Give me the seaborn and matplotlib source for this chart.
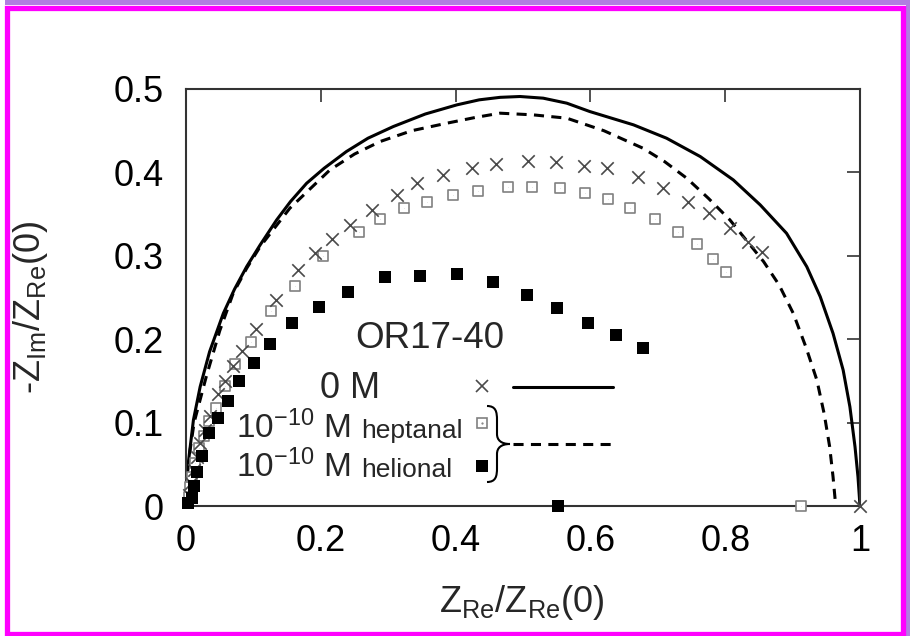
import matplotlib

matplotlib.use("Agg")
import matplotlib.pyplot as plt
import pandas as pd
import seaborn as sns
from matplotlib.patches import PathPatch, Rectangle
from matplotlib.path import Path

# fitted curves
solid_x = [0, 0.0008, 0.0034, 0.011, 0.021, 0.035, 0.0554, 0.072, 0.090, 0.11, 0.1345,
           0.155, 0.179, 0.205, 0.238, 0.27, 0.3076, 0.355, 0.402, 0.435, 0.466, 0.4955,
           0.53, 0.565, 0.599, 0.664, 0.713, 0.763, 0.812, 0.852, 0.891, 0.921, 0.941,
           0.960, 0.975, 0.985, 0.9926, 0.997, 1.0]
solid_y = [0, 0.025, 0.0516, 0.103, 0.143, 0.185, 0.231, 0.260, 0.287, 0.313, 0.343,
           0.365, 0.387, 0.405, 0.425, 0.441, 0.455, 0.470, 0.481, 0.487, 0.490, 0.491,
           0.489, 0.483, 0.473, 0.457, 0.441, 0.419, 0.391, 0.361, 0.327, 0.287, 0.251,
           0.207, 0.163, 0.119, 0.071, 0.035, 0]
dashed_x = [0, 0.001, 0.003, 0.012, 0.030, 0.050, 0.070, 0.090, 0.110, 0.154, 0.2136,
            0.25, 0.288, 0.335, 0.387, 0.43, 0.466, 0.515, 0.565, 0.62, 0.678, 0.71,
            0.743, 0.775, 0.807, 0.857, 0.88, 0.901, 0.92, 0.936, 0.947, 0.955, 0.960,
            0.964]
dashed_y = [0, 0.025, 0.05, 0.10, 0.155, 0.21, 0.255, 0.285, 0.311, 0.357, 0.403,
            0.422, 0.437, 0.450, 0.459, 0.466, 0.471, 0.469, 0.465, 0.450, 0.429, 0.413,
            0.393, 0.369, 0.343, 0.293, 0.265, 0.231, 0.19, 0.151, 0.11, 0.071, 0.035,
            0]

# 0 M (crosses)
zero_x = [0.005, 0.008, 0.0114, 0.0163, 0.0212, 0.0287, 0.036, 0.0475, 0.0583, 0.070, 0.083,
          0.104, 0.133, 0.1667, 0.191, 0.216, 0.243, 0.2755, 0.3126, 0.343, 0.382, 0.424,
          0.460, 0.508, 0.549, 0.5905, 0.625, 0.670, 0.708, 0.745, 0.776, 0.807, 0.834,
          0.854, 1.0]
zero_y = [0.013, 0.027, 0.043, 0.059, 0.075, 0.091, 0.108, 0.134, 0.150, 0.168, 0.186,
          0.212, 0.247, 0.283, 0.303, 0.320, 0.337, 0.355, 0.373, 0.387, 0.397, 0.405,
          0.410, 0.414, 0.412, 0.408, 0.405, 0.395, 0.381, 0.364, 0.351, 0.333, 0.316,
          0.304, 0.0]

# 1e-10 M heptanal (open squares)
hept_x = [0.004, 0.0064, 0.009, 0.0138, 0.0188, 0.0262, 0.0336, 0.045, 0.0574, 0.0722,
          0.0969, 0.1256, 0.1617, 0.2037, 0.257, 0.288, 0.3234, 0.357, 0.3966, 0.4337,
          0.478, 0.514, 0.555, 0.592, 0.6266, 0.659, 0.696, 0.730, 0.758, 0.782, 0.801,
          0.912]
hept_y = [0.011, 0.023, 0.035, 0.051, 0.069, 0.084, 0.102, 0.118, 0.144, 0.170,
          0.197, 0.234, 0.264, 0.300, 0.329, 0.344, 0.357, 0.364, 0.373, 0.378,
          0.383, 0.383, 0.381, 0.375, 0.368, 0.357, 0.344, 0.328, 0.314, 0.296, 0.281,
          0.0]

# 1e-10 M helional (filled squares)
heli_x = [0.003, 0.009, 0.0114, 0.0163, 0.0237, 0.0346, 0.0475, 0.0623, 0.079, 0.1004,
          0.125, 0.157, 0.198, 0.241, 0.295, 0.347, 0.4016, 0.456, 0.5055, 0.551, 0.597,
          0.638, 0.6776, 0.5515]
heli_y = [0.003, 0.009, 0.024, 0.041, 0.060, 0.087, 0.105, 0.126, 0.150, 0.171,
          0.194, 0.219, 0.239, 0.257, 0.274, 0.276, 0.278, 0.269, 0.253, 0.237, 0.220,
          0.205, 0.189, 0.0]

x_ticks = [0, 0.2, 0.4, 0.6, 0.8, 1.0]
x_ticklabels = ["0", "0.2", "0.4", "0.6", "0.8", "1"]
y_ticks = [0, 0.1, 0.2, 0.3, 0.4, 0.5]
y_ticklabels = ["0", "0.1", "0.2", "0.3", "0.4", "0.5"]

W, H = 910, 636
AX_L, AX_R, AX_T, AX_B = 186, 860, 89, 506


def ax_frac(px, py):
    return (px - AX_L) / (AX_R - AX_L), (AX_B - py) / (AX_B - AX_T)


sns.set_style("white")
plt.rcParams["font.family"] = ["Liberation Sans", "DejaVu Sans"]
plt.rcParams["mathtext.fontset"] = "custom"
plt.rcParams["mathtext.rm"] = "Liberation Sans"
plt.rcParams["mathtext.it"] = "Liberation Sans"

fig = plt.figure(figsize=(W / 100, H / 100), dpi=100)
ax = fig.add_axes([AX_L / W, 1 - AX_B / H, (AX_R - AX_L) / W, (AX_B - AX_T) / H])

solid = pd.DataFrame({"x": solid_x, "y": solid_y})
dashed = pd.DataFrame({"x": dashed_x, "y": dashed_y})
sns.lineplot(data=solid, x="x", y="y", sort=False, estimator=None,
             color="black", lw=2.2, ax=ax, legend=False)
sns.lineplot(data=dashed, x="x", y="y", sort=False, estimator=None,
             color="black", lw=2.2, ax=ax, legend=False)
ax.lines[-1].set_dashes((3.3, 2.4))
for ln in ax.lines:
    ln.set_solid_joinstyle("round")

zero = pd.DataFrame({"x": zero_x, "y": zero_y})
hept = pd.DataFrame({"x": hept_x, "y": hept_y})
heli = pd.DataFrame({"x": heli_x, "y": heli_y})
sns.scatterplot(data=zero, x="x", y="y", marker="x", s=80, color="#4a4a4a",
                linewidth=1.2, ax=ax, zorder=4, clip_on=False)
sns.scatterplot(data=hept, x="x", y="y", marker="s", s=62, facecolor="white",
                edgecolor="#808080", linewidth=1.2, ax=ax, zorder=3, clip_on=False)
sns.scatterplot(data=hept, x="x", y="y", marker=".", s=2, color="#808080",
                linewidth=0, ax=ax, zorder=3)
sns.scatterplot(data=heli, x="x", y="y", marker="s", s=74, color="black",
                linewidth=0, ax=ax, zorder=5, clip_on=False)

ax.set_xlim(0, 1)
ax.set_ylim(0, 0.5)
ax.set_xticks(x_ticks)
ax.set_xticklabels(x_ticklabels)
ax.set_yticks(y_ticks)
ax.set_yticklabels(y_ticklabels)
ax.tick_params(direction="in", length=9.5, width=1.2, color="#333333", labelsize=26,
               top=True, right=True, labelcolor="black")
ax.tick_params(axis="x", pad=13)
ax.tick_params(axis="y", pad=16)
for sp in ax.spines.values():
    sp.set_color("#333333")
    sp.set_linewidth(1.5)

ax.set_xlabel(r"$\mathregular{Z_{Re}/Z_{Re}(0)}$", fontsize=26)
ax.set_ylabel(r"-$\mathregular{Z_{Im}/Z_{Re}(0)}$", fontsize=26)
ax.xaxis.set_label_coords(*ax_frac(522, 603))
ax.yaxis.set_label_coords(*ax_frac(30, 307))
ax.xaxis.label.set_va("center")
ax.yaxis.label.set_va("center")

# hand-built key
tr = ax.transAxes
ax.text(*ax_frac(430, 348), "OR17-40", transform=tr, fontsize=26.5, ha="center", va="baseline")
ax.text(*ax_frac(320, 398), "0 M", transform=tr, fontsize=26, ha="left", va="baseline")
for base, name in [(438, "heptanal"), (477, "helional")]:
    ax.text(*ax_frac(236, base), r"10$^{\mathregular{-10}}$ M", transform=tr, fontsize=24,
            ha="left", va="baseline")
    ax.text(*ax_frac(361, base), name, transform=tr, fontsize=19, ha="left", va="baseline")

ax.plot(*ax_frac(482, 386), marker="x", ms=9, mew=1.2, color="#4a4a4a", transform=tr)
ax.plot(*ax_frac(482, 423), marker="s", ms=7.9, mew=1.2, mfc="white", mec="#808080", transform=tr)
ax.plot(*ax_frac(482, 423), marker=".", ms=1.2, color="#808080", transform=tr)
ax.plot(*ax_frac(482, 466), marker="s", ms=8.6, mew=0, color="black", transform=tr)
lx0, ly0 = ax_frac(513, 387)
lx1, _ = ax_frac(613, 387)
ax.plot([lx0, lx1], [ly0, ly0], color="black", lw=2.2, transform=tr)
_, ly1 = ax_frac(613, 444)
ax.plot([lx0, lx1], [ly1, ly1], color="black", lw=2.2, dashes=(3.3, 2.4), transform=tr)

brace_px = [(487, 406), (496, 406), (497, 412), (497, 420), (497, 434),
            (497, 440), (501, 444), (510, 444), (501, 444), (497, 448), (497, 454),
            (497, 468), (497, 476), (496, 482), (487, 482)]
codes = [Path.MOVETO, Path.CURVE4, Path.CURVE4, Path.CURVE4, Path.LINETO,
         Path.CURVE4, Path.CURVE4, Path.CURVE4, Path.CURVE4, Path.CURVE4, Path.CURVE4,
         Path.LINETO, Path.CURVE4, Path.CURVE4, Path.CURVE4]
brace = Path([ax_frac(px, py) for px, py in brace_px], codes)
ax.add_patch(PathPatch(brace, facecolor="none", edgecolor="black", lw=1.5, transform=tr))

# page frame
fig.add_artist(Rectangle((5 / W, 1 - 5 / H), 905 / W, 5 / H, transform=fig.transFigure,
                         facecolor="#b07ee0", edgecolor="none"))
fig.add_artist(Rectangle((906 / W, 0), 4 / W, 1, transform=fig.transFigure,
                         facecolor="#b07ee0", edgecolor="none"))
fig.add_artist(Rectangle((7.3 / W, 2.5 / H), 896 / W, 626 / H, transform=fig.transFigure,
                         facecolor="none", edgecolor="#ff00ff", lw=3.8))

fig.savefig("out.png", dpi=100)
